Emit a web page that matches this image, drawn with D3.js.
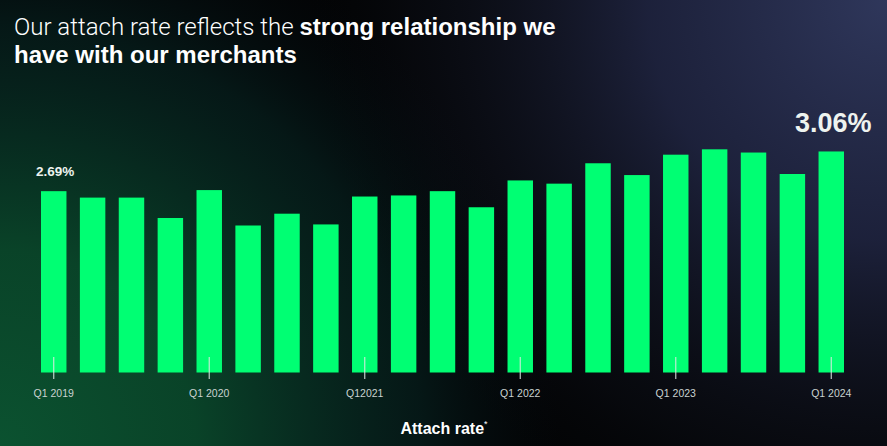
<!DOCTYPE html>
<html>
<head>
<meta charset="utf-8">
<script src="https://cdn.jsdelivr.net/npm/d3@7"></script>
<style>
  html, body { margin: 0; padding: 0; background: #000; }
  svg { display: block; }
</style>
</head>
<body>
<svg id="chart" width="887" height="446"></svg>
<script>
// Quarterly attach rate, Q1 2019 – Q1 2024 (%)
const quarters = [
  "Q1 2019", "Q2 2019", "Q3 2019", "Q4 2019",
  "Q1 2020", "Q2 2020", "Q3 2020", "Q4 2020",
  "Q1 2021", "Q2 2021", "Q3 2021", "Q4 2021",
  "Q1 2022", "Q2 2022", "Q3 2022", "Q4 2022",
  "Q1 2023", "Q2 2023", "Q3 2023", "Q4 2023",
  "Q1 2024"
];
const attachRate = [
  2.69, 2.63, 2.63, 2.44,
  2.70, 2.37, 2.48, 2.38,
  2.64, 2.65, 2.69, 2.54,
  2.79, 2.76, 2.95, 2.84,
  3.03, 3.08, 3.05, 2.85,
  3.06
];
const tickQuarters = ["Q1 2019", "Q1 2020", "Q1 2021", "Q1 2022", "Q1 2023", "Q1 2024"];
const tickLabels = ["Q1 2019", "Q1 2020", "Q12021", "Q1 2022", "Q1 2023", "Q1 2024"];
const labelledQuarters = ["Q1 2019", "Q1 2024"];

const W = 887, H = 446;
const svg = d3.select("#chart");
const defs = svg.append("defs");

// Background: black base with green glow bottom-left and navy glow top-right
const gGreen = defs.append("radialGradient").attr("id", "glowGreen")
  .attr("gradientUnits", "userSpaceOnUse")
  .attr("cx", 0).attr("cy", H).attr("r", 560);
gGreen.append("stop").attr("offset", 0).attr("stop-color", "#0b5230").attr("stop-opacity", 1);
gGreen.append("stop").attr("offset", 0.35).attr("stop-color", "#0a4a2c").attr("stop-opacity", 0.9);
gGreen.append("stop").attr("offset", 0.75).attr("stop-color", "#08302c").attr("stop-opacity", 0.45);
gGreen.append("stop").attr("offset", 1).attr("stop-color", "#05101a").attr("stop-opacity", 0);

const gNavy = defs.append("radialGradient").attr("id", "glowNavy")
  .attr("gradientUnits", "userSpaceOnUse")
  .attr("cx", W).attr("cy", 0).attr("r", 600);
gNavy.append("stop").attr("offset", 0).attr("stop-color", "#2f375b").attr("stop-opacity", 1);
gNavy.append("stop").attr("offset", 0.4).attr("stop-color", "#212644").attr("stop-opacity", 0.85);
gNavy.append("stop").attr("offset", 0.8).attr("stop-color", "#10131f").attr("stop-opacity", 0.3);
gNavy.append("stop").attr("offset", 1).attr("stop-color", "#000000").attr("stop-opacity", 0);

svg.append("rect").attr("width", W).attr("height", H).attr("fill", "#030405");
svg.append("rect").attr("width", W).attr("height", H).attr("fill", "url(#glowNavy)");
svg.append("rect").attr("width", W).attr("height", H).attr("fill", "url(#glowGreen)");

// Title
const title = svg.append("text")
  .attr("fill", "#ffffff")
  .attr("font-family", "'Liberation Sans', Arial, sans-serif")
  .attr("font-size", 24);
const l1 = title.append("tspan").attr("x", 14).attr("y", 35);
l1.append("tspan").attr("font-family", "Roboto, 'Liberation Sans', sans-serif")
  .attr("font-weight", 300).text("Our attach rate reflects the ");
l1.append("tspan").attr("font-weight", 700).text("strong relationship we");
title.append("tspan").attr("x", 14).attr("y", 63).attr("font-weight", 700)
  .text("have with our merchants");

// Scales
const x = d3.scaleBand().domain(quarters).range([41, 844]).paddingInner(0.345).paddingOuter(0);
const y = d3.scaleLinear().domain([1, 3]).range([372.5, 157.9]);

// Bars
svg.append("g").selectAll("rect")
  .data(quarters)
  .join("rect")
  .attr("x", d => x(d))
  .attr("width", x.bandwidth())
  .attr("y", (d, i) => y(attachRate[i]))
  .attr("height", (d, i) => y(1) - y(attachRate[i]))
  .attr("fill", "#00ff73");

// Axis: short ticks rising into the Q1 bars, labels beneath
const axis = d3.axisBottom(x)
  .tickValues(tickQuarters)
  .tickFormat((d, i) => tickLabels[i])
  .tickSizeInner(-22)
  .tickSizeOuter(0)
  .tickPadding(11);
const gx = svg.append("g").attr("transform", "translate(0,379)").call(axis);
gx.select(".domain").remove();
gx.selectAll(".tick line").attr("stroke", "#dfe9e3").attr("stroke-width", 1.2).attr("stroke-opacity", 0.85);
gx.selectAll(".tick text")
  .attr("fill", "#c9d2d0")
  .attr("font-family", "'Liberation Sans', Arial, sans-serif")
  .attr("font-size", 10.5);

// Value labels on first and latest quarters
const labelStyle = { "Q1 2019": { size: 13.5, dy: -15 }, "Q1 2024": { size: 27, dy: -19 } };
svg.append("g").selectAll("text")
  .data(labelledQuarters)
  .join("text")
  .attr("x", d => x(d) + x.bandwidth() / 2 + (d === "Q1 2024" ? 2 : 1.5))
  .attr("y", d => y(attachRate[quarters.indexOf(d)]) + labelStyle[d].dy)
  .attr("text-anchor", "middle")
  .attr("fill", "#eef3ef")
  .attr("font-family", "'Liberation Sans', Arial, sans-serif")
  .attr("font-weight", 700)
  .attr("font-size", d => labelStyle[d].size)
  .text(d => attachRate[quarters.indexOf(d)].toFixed(2) + "%");

// Axis caption
const cap = svg.append("text")
  .attr("x", 444).attr("y", 434)
  .attr("text-anchor", "middle")
  .attr("fill", "#ffffff")
  .attr("font-family", "'Liberation Sans', Arial, sans-serif")
  .attr("font-weight", 700)
  .attr("font-size", 16);
cap.append("tspan").text("Attach rate");
cap.append("tspan").attr("font-size", 9).attr("font-weight", 400).attr("dy", -7).text("*");
</script>
</body>
</html>
